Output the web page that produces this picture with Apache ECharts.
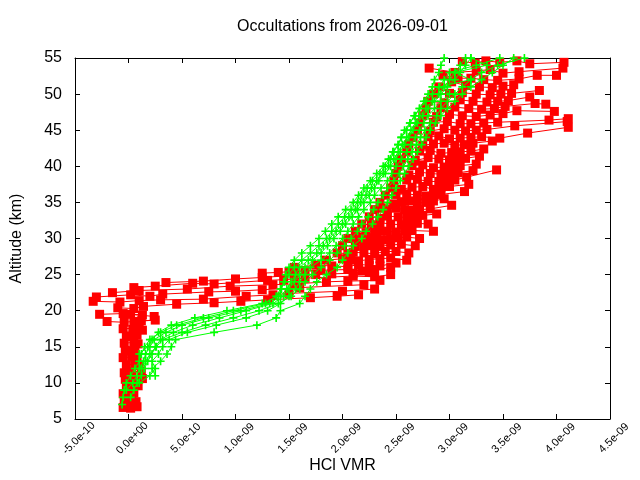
<!DOCTYPE html>
<html><head><meta charset="utf-8">
<script src="https://cdn.jsdelivr.net/npm/echarts@6/dist/echarts.min.js"></script>
<style>html,body{margin:0;padding:0;background:#fff}#c{width:640px;height:480px}</style>
</head><body><div id="c"></div>
<script>
// x values in units of 1e-9 (VMR), altitude in km
const r01=[[-0.05,6.6],[0.02,6.5],[0.08,6.7]];
const r02=[[-0.04,7.5],[0.03,7.6],[0.07,7.4]];
const r03=[[-0.05,8.5],[0.05,8.6],[0.0,8.4]];
const r04=[[-0.02,9.5],[0.09,9.6],[0.03,9.4]];
const r05=[[-0.03,10.5],[0.13,10.6],[0.04,10.4]];
const r06=[[-0.04,11.4],[0.12,11.6],[0.03,11.5]];
const r07=[[-0.02,12.5],[0.06,12.6],[0.1,12.4]];
const r08=[[-0.05,13.5],[0.03,13.6],[0.08,13.4]];
const r09=[[-0.03,14.5],[0.06,14.6],[0.01,14.4]];
const r10=[[-0.04,15.5],[0.05,15.6],[0.09,15.4]];
const r11=[[-0.02,16.5],[0.08,16.6],[0.03,16.4]];
const r12=[[-0.05,17.5],[0.1,17.6],[0.04,17.4],[0.13,17.3]];
const r13=[[-0.2,18.5],[-0.04,18.4],[0.12,18.6],[0.25,18.7],[0.05,18.5]];
const r14=[[-0.27,19.5],[-0.05,19.6],[0.13,19.4],[0.02,19.5],[0.24,19.2]];
const r15=[[-0.1,20.4],[0.05,20.3],[0.14,20.6],[0.45,20.9],[0.8,21.1],[1.05,21.3],[1.3,21.5],[1.7,21.8],[1.95,22.0],[2.15,22.2]];
const r16=[[-0.33,21.3],[-0.08,21.2],[0.1,21.4],[0.3,21.5],[0.7,21.6],[1.1,22.0],[1.35,22.2],[1.5,22.4],[2.0,22.7],[2.3,23.0]];
const r17=[[-0.3,21.9],[0.02,22.2],[0.2,22.0],[0.32,22.3],[0.75,22.6],[1.0,22.7],[1.25,22.9],[1.6,23.2],[2.2,23.6]];
const r18=[[-0.15,22.5],[0.1,22.8],[0.55,23.0],[0.95,23.4],[1.35,23.6],[1.55,23.7],[1.85,24.0],[2.05,24.1],[2.35,24.2]];
const r19=[[0.05,23.2],[0.25,23.4],[0.6,23.8],[0.8,23.7],[1.3,24.2],[1.45,24.3],[1.65,24.5],[2.1,24.8],[2.3,24.7],[2.45,25.0]];
const r20=[[0.35,23.9],[0.7,24.1],[1.0,24.4],[1.25,24.6],[1.55,24.9],[1.75,25.0],[1.9,25.1],[2.1,25.2],[2.25,25.3]];
const r21=[[1.25,25.2],[1.4,25.3],[1.5,25.4],[1.65,25.5],[1.8,25.6],[2.05,25.7],[2.18,25.5],[2.3,25.6],[2.45,26.0]];
const r22=[[1.55,26.0],[1.75,26.3],[1.9,26.2],[2.05,26.1],[2.15,26.4],[2.25,26.3],[2.35,26.2],[2.5,26.6]];
const r23=[[1.85,27.0],[2.0,27.2],[2.08,27.0],[2.15,26.9],[2.25,27.1],[2.35,27.2],[2.45,27.3],[2.6,27.0]];
const r24=[[1.95,28.0],[2.05,27.9],[2.1,28.1],[2.2,28.0],[2.3,27.9],[2.4,28.2],[2.5,28.2],[2.62,28.0]];
const r25=[[2.0,29.0],[2.12,28.9],[2.2,29.1],[2.28,29.0],[2.35,28.9],[2.45,29.1],[2.55,29.2],[2.68,29.0]];
const r26=[[2.05,30.0],[2.12,29.9],[2.18,30.2],[2.25,30.1],[2.32,30.0],[2.38,29.8],[2.45,29.9],[2.52,30.1],[2.6,30.2],[2.72,30.0]];
const r27=[[2.12,31.0],[2.22,30.8],[2.3,31.2],[2.36,31.0],[2.42,31.0],[2.5,30.9],[2.58,31.1],[2.65,31.1],[2.85,31.0]];
const r28=[[2.18,32.0],[2.27,31.9],[2.35,32.2],[2.45,32.0],[2.55,31.9],[2.62,32.1],[2.7,32.1],[2.8,32.0]];
const r29=[[2.25,33.0],[2.35,32.8],[2.42,33.1],[2.52,33.0],[2.6,32.9],[2.68,33.0],[2.75,33.2],[2.88,33.4]];
const r30=[[2.3,34.0],[2.36,34.2],[2.42,34.1],[2.5,34.2],[2.58,34.0],[2.65,33.9],[2.72,34.0],[2.82,34.1],[3.02,34.6]];
const r31=[[2.35,35.0],[2.48,34.8],[2.55,35.1],[2.62,35.2],[2.7,34.9],[2.78,35.0],[2.85,35.2],[2.95,35.5]];
const r32=[[2.4,36.0],[2.5,36.1],[2.6,36.2],[2.7,36.0],[2.78,35.9],[2.85,36.0],[2.92,36.1],[3.14,36.5]];
const r33=[[2.45,37.0],[2.55,36.8],[2.65,37.1],[2.75,37.2],[2.85,36.8],[2.92,37.0],[3.0,37.2],[3.18,37.5]];
const r34=[[2.48,38.0],[2.6,38.1],[2.7,38.2],[2.8,37.9],[2.9,37.9],[2.98,38.0],[3.05,38.1],[3.16,38.5],[3.44,39.5]];
const r35=[[2.5,39.0],[2.62,38.8],[2.72,39.2],[2.82,39.0],[2.92,38.9],[3.0,39.0],[3.08,39.1],[3.22,39.4]];
const r36=[[2.52,40.0],[2.65,40.1],[2.75,40.2],[2.85,39.8],[2.95,39.9],[3.02,40.0],[3.1,40.1],[3.25,40.3]];
const r37=[[2.55,41.0],[2.68,40.8],[2.8,41.2],[2.9,41.0],[3.0,40.9],[3.08,41.0],[3.15,41.1],[3.28,41.4]];
const r38=[[2.6,42.0],[2.72,42.1],[2.82,42.2],[2.92,41.8],[3.02,41.9],[3.1,42.0],[3.2,42.1],[3.32,42.4]];
const r39=[[2.62,43.0],[2.75,42.9],[2.85,43.1],[2.95,43.2],[3.05,42.9],[3.14,43.0],[3.22,43.2],[3.4,43.5]];
const r40=[[2.66,44.0],[2.8,44.1],[2.9,44.2],[3.0,43.8],[3.1,43.9],[3.2,44.0],[3.3,44.1],[3.47,43.9],[3.73,44.6],[4.11,45.4]];
const r41=[[2.7,45.0],[2.82,44.9],[2.95,45.2],[3.05,45.0],[3.15,44.9],[3.25,45.0],[3.35,45.1],[3.61,45.6],[4.1,46.2]];
const r42=[[2.72,46.0],[2.85,46.1],[2.98,46.2],[3.1,45.9],[3.2,45.9],[3.32,46.0],[3.45,46.1],[3.93,46.4],[4.11,46.6]];
const r43=[[2.75,47.0],[2.88,46.9],[3.0,47.2],[3.12,47.0],[3.25,46.9],[3.38,47.1],[3.5,47.3],[3.63,47.7],[3.98,47.6]];
const r44=[[2.78,48.0],[2.92,48.1],[3.05,48.2],[3.18,48.0],[3.3,47.9],[3.42,48.0],[3.52,48.3],[3.8,48.7],[3.9,48.6]];
const r45=[[2.8,49.0],[2.95,48.8],[3.1,49.2],[3.22,49.0],[3.35,48.9],[3.45,49.0],[3.55,49.1],[3.75,49.6]];
const r46=[[2.85,50.0],[3.0,50.1],[3.12,50.2],[3.25,50.0],[3.38,49.9],[3.48,50.0],[3.58,50.1],[3.84,50.5]];
const r47=[[2.9,51.0],[3.02,51.7],[3.15,51.2],[3.28,51.0],[3.4,50.9],[3.5,51.1],[3.6,51.3]];
const r48=[[2.94,52.6],[3.08,52.2],[3.2,52.2],[3.32,52.0],[3.45,51.9],[3.65,52.1],[3.82,52.6],[4.0,52.6]];
const r49=[[2.81,53.6],[3.05,53.0],[3.25,53.2],[3.38,53.4],[3.5,52.9],[3.65,53.1],[4.06,53.6]];
const r50=[[3.12,54.5],[3.24,54.3],[3.34,54.6],[3.47,54.4],[3.63,54.6],[3.75,54.2],[4.07,54.4]];
const redRows=[r01,r02,r03,r04,r05,r06,r07,r08,r09,r10,r11,r12,r13,r14,r15,r16,r17,r18,r19,r20,r21,r22,r23,r24,r25,r26,r27,r28,r29,r30,r31,r32,r33,r34,r35,r36,r37,r38,r39,r40,r41,r42,r43,r44,r45,r46,r47,r48,r49,r50];

// green profiles on a shared altitude grid (7..55 km)
const greenAlt=[7,8,9,10,11,12,13,14,15,16,17,18,19,20,21,22,23,24,25,26,27,28,29,30,31,32,33,34,35,36,37,38,39,40,41,42,43,44,45,46,47,48,49,50,51,52,53,54,55];
const g1=[-0.06,-0.05,-0.04,-0.02,0.02,0.06,0.1,0.12,0.15,0.2,0.3,0.45,0.7,0.98,1.28,1.38,1.42,1.46,1.5,1.55,1.62,1.7,1.78,1.85,1.9,1.96,2.02,2.08,2.14,2.18,2.23,2.28,2.35,2.4,2.45,2.48,2.52,2.55,2.6,2.63,2.68,2.72,2.76,2.8,2.84,2.86,2.9,2.92,2.95];
const g2=[null,0.02,0.05,0.08,0.12,0.15,0.18,0.22,0.25,0.3,0.42,0.6,0.85,1.1,1.35,1.45,1.5,1.55,1.6,1.65,1.72,1.8,1.86,1.92,1.98,2.03,2.09,2.14,2.2,2.25,2.3,2.34,2.4,2.45,2.5,2.54,2.58,2.62,2.66,2.7,2.75,2.8,2.86,2.92,2.98,3.05,3.1,3.15,3.2];
const g3=[null,null,null,0.1,0.2,0.25,0.22,0.28,0.32,0.38,0.55,0.82,1.1,1.3,1.42,1.5,1.56,1.6,1.65,1.7,1.8,1.88,1.94,2.0,2.05,2.1,2.15,2.2,2.26,2.3,2.36,2.42,2.46,2.5,2.55,2.6,2.64,2.68,2.72,2.76,2.8,2.86,2.92,3.0,2.9,3.2,3.05,3.35,3.2];
const g4=[null,null,null,null,0.25,0.22,0.3,0.36,0.4,0.44,0.8,1.2,1.38,1.42,1.6,1.65,1.7,1.76,1.85,1.95,2.0,2.05,2.1,2.18,2.22,2.28,2.33,2.38,2.42,2.46,2.5,2.54,2.58,2.62,2.66,2.7,2.74,2.78,2.82,2.87,2.92,2.98,3.05,3.12,3.2,3.3,3.4,3.5,3.6];
const g5=[null,null,-0.02,0.04,0.08,0.1,0.14,0.16,0.2,0.24,0.35,0.5,0.75,1.05,1.32,1.42,1.48,1.52,1.56,1.6,1.68,1.76,1.82,1.88,1.94,2.0,2.06,2.12,2.17,2.22,2.27,2.32,2.38,2.43,2.48,2.52,2.56,2.6,2.64,2.68,2.72,2.78,2.84,2.9,2.95,3.0,3.05,3.1,3.15];
const g6=[null,null,null,null,null,0.12,0.16,0.2,0.26,0.32,0.5,0.72,0.98,1.22,1.4,1.52,1.6,1.65,1.72,1.8,1.88,1.95,2.02,2.08,2.14,2.18,2.24,2.29,2.33,2.38,2.42,2.48,2.53,2.57,2.61,2.65,2.69,2.73,2.77,2.82,2.88,2.92,2.98,3.05,3.12,3.2,3.3,3.45,3.7];
const g7=[null,null,null,null,null,null,null,0.1,0.18,0.22,0.28,0.4,0.62,0.92,1.25,1.4,1.43,1.45,1.47,1.5,1.55,1.62,1.7,1.78,1.84,1.9,1.96,2.03,2.1,2.15,2.2,2.26,2.32,2.38,2.43,2.47,2.52,2.55,2.58,2.63,2.67,2.72,2.78,2.84,2.9,2.95,3.0,3.25,3.47];
const greenProfiles=[g1,g2,g3,g4,g5,g6,g7];

const SCALE=1e-9;
const RED='#ff0000', GREEN='#00ff00';
const PLUS='path://M4,0H6V4H10V6H6V10H4V6H0V4H4Z';

function fmtX(v){
  if(Math.abs(v)<1e-20) return '0.0e+00';
  const s=v.toExponential(1);
  const parts=s.split('e');
  let ex=parts[1];
  const sign=ex[0]==='-'?'-':'+';
  let d=ex.replace(/[+-]/,'');
  if(d.length<2) d='0'+d;
  return parts[0]+'e'+sign+d;
}

const series=[];
redRows.forEach(row=>{
  series.push({type:'line',xAxisIndex:0,yAxisIndex:0,data:row.map(p=>[p[0]*SCALE,p[1]]),
    symbol:'rect',symbolSize:9,showSymbol:true,
    lineStyle:{color:RED,width:1},itemStyle:{color:RED},z:2,animation:false,silent:true});
});
greenProfiles.forEach(prof=>{
  const d=[];
  prof.forEach((x,i)=>{ if(x!==null) d.push([x*SCALE,greenAlt[i]]); });
  series.push({type:'line',xAxisIndex:0,yAxisIndex:0,data:d,
    symbol:PLUS,symbolSize:8,showSymbol:true,
    lineStyle:{color:GREEN,width:1},itemStyle:{color:GREEN},z:3,animation:false,silent:true});
});

const FONT='Liberation Sans';
const chart=echarts.init(document.getElementById('c'),null,{renderer:'canvas'});
chart.setOption({
  animation:false,
  backgroundColor:'#ffffff',
  title:{text:'Occultations from 2026-09-01',left:342.5,textAlign:'center',top:19,padding:0,
    textStyle:{fontFamily:FONT,fontSize:16,fontWeight:'normal',color:'#000'}},
  grid:{left:75,right:30,top:58,bottom:61,containLabel:false,outerBoundsMode:'none'},
  xAxis:[
    {type:'value',position:'bottom',min:-5e-10,max:4.5e-9,interval:5e-10,
     name:'HCl VMR',nameLocation:'middle',nameGap:39,nameMoveOverlap:false,
     nameTextStyle:{fontFamily:FONT,fontSize:16,color:'#000'},
     axisLine:{show:true,onZero:false,lineStyle:{color:'#000',width:1}},
     axisTick:{show:true,inside:true,length:5,lineStyle:{color:'#000'}},
     splitLine:{show:false},
     axisLabel:{rotate:45,margin:4,fontFamily:FONT,fontSize:11,color:'#000',formatter:fmtX,
       align:'center',verticalAlign:'top',padding:[8,16,0,0]}},
    {type:'value',position:'top',min:-5e-10,max:4.5e-9,interval:5e-10,
     axisLine:{show:true,onZero:false,lineStyle:{color:'#000',width:1}},
     axisTick:{show:true,inside:true,length:5,lineStyle:{color:'#000'}},
     axisLabel:{show:false},splitLine:{show:false}}
  ],
  yAxis:[
    {type:'value',position:'left',min:5,max:55,interval:5,
     name:'Altitude (km)',nameLocation:'middle',nameGap:50,nameMoveOverlap:false,
     nameTextStyle:{fontFamily:FONT,fontSize:16,color:'#000'},
     axisLine:{show:true,onZero:false,lineStyle:{color:'#000',width:1}},
     axisTick:{show:true,inside:true,length:5,lineStyle:{color:'#000'}},
     splitLine:{show:false},
     axisLabel:{margin:13,fontFamily:FONT,fontSize:16,color:'#000'}},
    {type:'value',position:'right',min:5,max:55,interval:5,
     axisLine:{show:true,onZero:false,lineStyle:{color:'#000',width:1}},
     axisTick:{show:true,inside:true,length:5,lineStyle:{color:'#000'}},
     axisLabel:{show:false},splitLine:{show:false}}
  ],
  series:series
});
</script></body></html>
